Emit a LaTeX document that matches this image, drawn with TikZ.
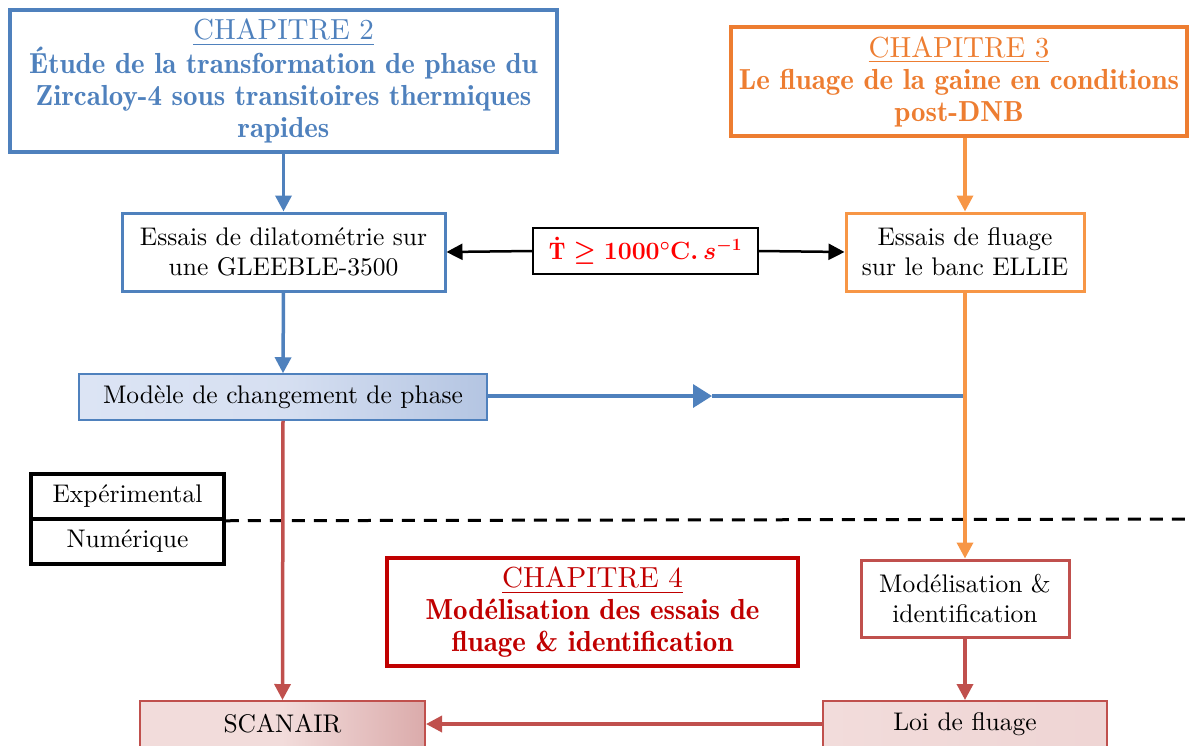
\documentclass[tikz,border=0pt]{standalone}
\usepackage{amsmath,amssymb,bm}
\usepackage{fontspec}
\setmainfont{lmroman10-regular.otf}[BoldFont=lmromandemi10-regular.otf, ItalicFont=lmroman10-italic.otf]
\usetikzlibrary{arrows.meta}
\definecolor{cblue}{HTML}{4F81BD}
\definecolor{corange}{HTML}{ED7D31}
\definecolor{clorange}{HTML}{F79646}
\definecolor{cdred}{HTML}{C00000}
\definecolor{cred}{HTML}{C0504D}
\definecolor{bluel}{HTML}{DCE4F4}
\definecolor{bluer}{HTML}{B4C5E2}
\definecolor{pinkl}{HTML}{F2DCDB}
\definecolor{pinkr}{HTML}{DBABAB}
\newcommand{\ratetext}{\textcolor{red}{\boldmath$\bm{\dot{\mathrm{T}}} \geq \mathbf{1000^{\circ}C.}\,\bm{s}^{\bm{-1}}$}}
\newcommand{\chaphead}[1]{{\mdseries\fontsize{29}{32}\selectfont\underline{#1}}}
\tikzset{
  txt/.style={font=\fontsize{25.5}{30}\selectfont, align=center, inner sep=0pt},
  chap/.style={txt, font=\fontsize{29}{32}\selectfont\bfseries, draw, line width=4pt},
  stepbox/.style={txt, draw, line width=3pt},
  arr/.style={line width=3.5pt, -{Triangle[length=16pt,width=16pt]}},
  plain/.style={line width=3.5pt},
}
\begin{document}
\begin{tikzpicture}[x=1pt,y=-1pt]
\clip (0,0) rectangle (1192,745);
\useasboundingbox (0,0) rectangle (1192,745);
% chapter boxes
\node[chap, draw=cblue, text=cblue, minimum width=547pt, minimum height=142pt] (c2) at (283.5,81)
  {\chaphead{CHAPITRE 2}\\\'Etude de la transformation de phase du\\Zircaloy-4 sous transitoires thermiques\\rapides};
\node[chap, draw=corange, text=corange, minimum width=456pt, minimum height=109pt] (c3) at (959,81.5)
  {\chaphead{CHAPITRE 3}\\Le fluage de la gaine en conditions\\post-DNB};
\node[chap, draw=cdred, text=cdred, minimum width=411pt, minimum height=108pt] (c4) at (592.5,612)
  {\chaphead{CHAPITRE 4}\\Mod\'elisation des essais de\\fluage \& identification};
% step boxes
\node[stepbox, draw=cblue, minimum width=323pt, minimum height=78pt] (dil) at (283.5,252)
  {Essais de dilatom\'etrie sur\\une GLEEBLE-3500};
\node[stepbox, draw=clorange, minimum width=238pt, minimum height=78pt] (flu) at (965,252)
  {Essais de fluage\\sur le banc ELLIE};
\node[txt, font=\fontsize{24}{30}\selectfont, draw=black, line width=1.5pt, minimum width=225pt, minimum height=46pt] (tb) at (645.5,251) {\ratetext};
\node[txt, draw=cblue, line width=1.5pt, left color=bluel, right color=bluer, middle color=bluel!85!bluer, minimum width=408pt, minimum height=46pt] (mod) at (283,397)
  {Mod\`ele de changement de phase};
\node[stepbox, draw=cred, minimum width=208pt, minimum height=77pt] (mid) at (965,598.5)
  {Mod\'elisation \&\\identification};
\node[txt, draw=cred, line width=2pt, left color=pinkl, right color=pinkl!85!pinkr, minimum width=284pt, minimum height=46pt] (loi) at (965,724)
  {Loi de fluage};
\node[txt, draw=cred, line width=2pt, left color=pinkl, right color=pinkr, middle color=pinkl, minimum width=285pt, minimum height=46pt] (sca) at (282.5,724)
  {SCANAIR};
% experimental / numerique
\node[txt, draw=black, line width=3.5pt, minimum width=193pt, minimum height=45pt] (exp) at (127.5,496.5) {Exp\'erimental};
\node[txt, draw=black, line width=3.5pt, minimum width=193pt, minimum height=45pt] (num) at (127.5,541.5) {Num\'erique};
\coordinate (dend) at (1192,519);
\draw[line width=3pt, dash pattern=on 13pt off 9pt] (exp.south east) -- (dend);
% connectors
\draw[arr, draw=cblue, fill=cblue] (c2.south -| dil.north) -- (dil.north);
\draw[arr, draw=cblue, fill=cblue] (dil.south) -- (mod.north);
\draw[arr, draw=clorange, fill=clorange] (c3.south -| flu.north) -- (flu.north);
\draw[arr, draw=clorange, fill=clorange] (flu.south) -- (mid.north);
\draw[arr, draw=black, line width=2.5pt] (tb.west) -- (dil.east);
\draw[arr, draw=black, line width=2.5pt] (tb.east) -- (flu.west);
\coordinate (bend) at (963,396);
\coordinate (bmid) at (712,396);
\draw[line width=3.5pt, draw=cblue, fill=cblue, -{Triangle[length=19pt,width=23pt]}] (mod.east |- bend) -- (bmid);
\draw[plain, draw=cblue] (bmid) -- (bend);
\draw[arr, draw=cred, fill=cred] (mod.south) -- (sca.north);
\draw[arr, draw=cred, fill=cred] (mid.south) -- (loi.north);
\draw[arr, draw=cred, fill=cred] (loi.west) -- (sca.east);
\end{tikzpicture}
\end{document}
